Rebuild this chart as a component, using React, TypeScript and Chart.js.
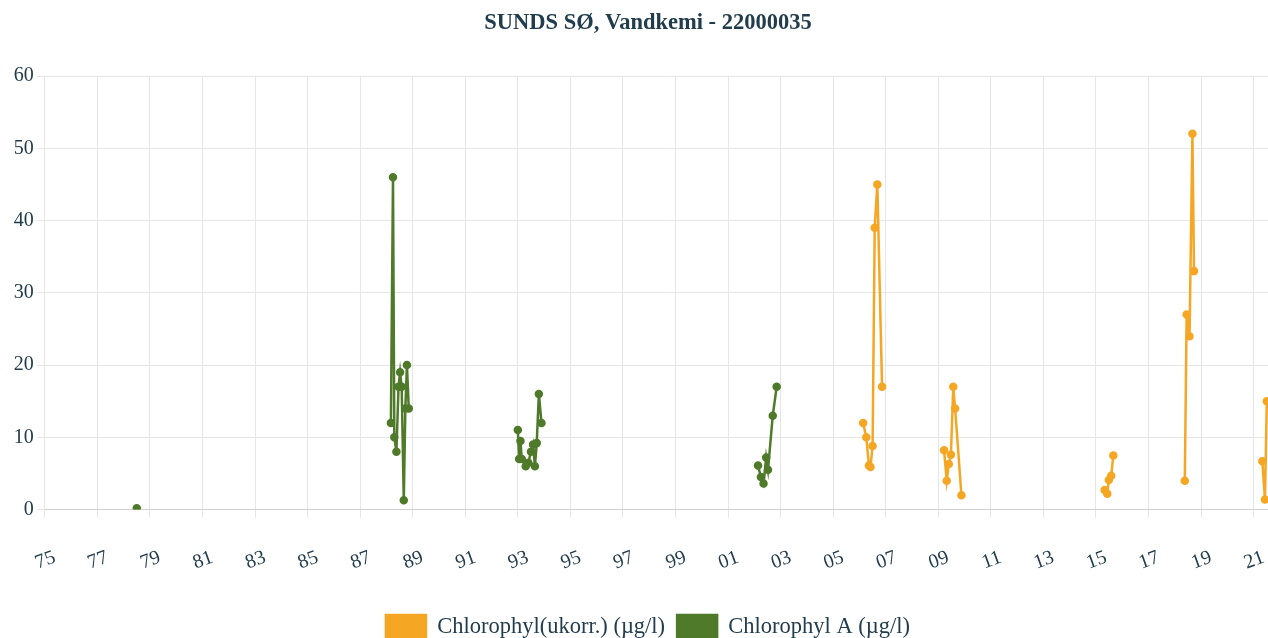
import React, { useEffect, useRef } from "react";
import { Chart, registerables } from "chart.js";

Chart.register(...registerables);

const TITLE = "SUNDS SØ, Vandkemi - 22000035";
const SERIES_UKORR_LABEL = "Chlorophyl(ukorr.) (µg/l)";
const SERIES_A_LABEL = "Chlorophyl A (µg/l)";

// decimal years; null values break the line between sampling campaigns
const ukorrYears = [
  2006.14, 2006.26, 2006.36, 2006.42, 2006.5, 2006.58, 2006.68, 2006.86, 2008.0,
  2009.22, 2009.32, 2009.4, 2009.48, 2009.57, 2009.64, 2009.88, 2012.0,
  2015.33, 2015.43, 2015.49, 2015.58, 2015.66, 2017.0,
  2018.38, 2018.45, 2018.56, 2018.67, 2018.73, 2020.0,
  2021.33, 2021.43, 2021.5,
];
const ukorrValues = [
  12, 10, 6.1, 5.9, 8.8, 39, 45, 17, null,
  8.2, 4.0, 6.3, 7.6, 17, 14, 2.0, null,
  2.7, 2.2, 4.1, 4.7, 7.5, null,
  4, 27, 24, 52, 33, null,
  6.7, 1.4, 15,
];

const chlAYears = [
  1978.5, 1984.0,
  1988.17, 1988.25, 1988.3, 1988.38, 1988.46, 1988.52, 1988.58, 1988.66, 1988.72, 1988.78, 1988.85, 1991.0,
  1993.0, 1993.05, 1993.1, 1993.15, 1993.3, 1993.4, 1993.5, 1993.58, 1993.65, 1993.72, 1993.8, 1993.9, 1998.0,
  2002.14, 2002.25, 2002.35, 2002.45, 2002.52, 2002.7, 2002.85,
];
const chlAValues = [
  0.2, null,
  12, 46, 10, 8, 17, 19, 17, 1.3, 14, 20, 14, null,
  11, 7, 9.5, 7, 6, 6.5, 8, 9, 6, 9.2, 16, 12, null,
  6.1, 4.5, 3.6, 7.2, 5.5, 13, 17,
];

const tickYears = [
  1975, 1977, 1979, 1981, 1983, 1985, 1987, 1989, 1991, 1993, 1995, 1997,
  1999, 2001, 2003, 2005, 2007, 2009, 2011, 2013, 2015, 2017, 2019, 2021,
];

const ORANGE = "#F5A623";
const GREEN = "#4E7A2A";
const TEXT = "#213c4c";
const FONT = '"Liberation Serif", "Times New Roman", serif';

export default function App() {
  const ref = useRef<HTMLCanvasElement | null>(null);

  useEffect(() => {
    if (!ref.current) return;
    const toPts = (xs: number[], ys: (number | null)[]) =>
      xs.map((x, i) => ({ x, y: ys[i] }));
    const chart = new Chart(ref.current, {
      type: "line",
      data: {
        datasets: [
          {
            label: SERIES_UKORR_LABEL,
            data: toPts(ukorrYears, ukorrValues) as any,
            borderColor: ORANGE,
            backgroundColor: ORANGE,
            borderWidth: 2.5,
            pointRadius: 3,
            pointHoverRadius: 4,
            spanGaps: false,
          },
          {
            label: SERIES_A_LABEL,
            data: toPts(chlAYears, chlAValues) as any,
            borderColor: GREEN,
            backgroundColor: GREEN,
            borderWidth: 2.5,
            pointRadius: 3,
            pointHoverRadius: 4,
            spanGaps: false,
          },
        ],
      },
      options: {
        animation: false,
        responsive: true,
        maintainAspectRatio: false,
        layout: { padding: { left: 0, right: 0, top: 2, bottom: 0 } },
        plugins: {
          title: {
            display: true,
            text: TITLE,
            color: TEXT,
            font: { family: FONT, size: 22.5, weight: "bold" },
            padding: { top: 0, bottom: 39 },
          },
          legend: {
            position: "bottom",
            labels: {
              color: TEXT,
              font: { family: FONT, size: 22.5 },
              boxWidth: 40,
              boxHeight: 24,
              padding: 12,
            },
          },
          tooltip: { enabled: false },
        },
        scales: {
          x: {
            type: "linear",
            min: 1975,
            max: 2022.44,
            afterBuildTicks: (scale: any) => {
              scale.ticks = tickYears.map((v) => ({ value: v }));
            },
            ticks: {
              color: TEXT,
              font: { family: FONT, size: 20 },
              minRotation: 20,
              maxRotation: 20,
              autoSkip: false,
              labelOffset: 10,
              padding: 28,
              callback: (v: any) => String(Math.round(Number(v)) % 100).padStart(2, "0"),
            },
            grid: { color: "#e6e6e6", tickLength: 8 },
            border: { color: "#d0d0d0" },
          },
          y: {
            min: 0,
            max: 60,
            ticks: {
              stepSize: 10,
              color: TEXT,
              font: { family: FONT, size: 20 },
              padding: 3,
            },
            grid: { color: "#e6e6e6", tickLength: 8 },
            border: { color: "#e6e6e6" },
          },
        },
      },
    });
    return () => chart.destroy();
  }, []);

  return (
    <div
      style={{
        position: "absolute",
        left: 0,
        top: 0,
        width: 1268,
        height: 638,
        overflow: "hidden",
      }}
    >
      <div style={{ position: "absolute", left: -2, top: 8, width: 1300, height: 641 }}>
        <canvas ref={ref} />
      </div>
    </div>
  );
}
